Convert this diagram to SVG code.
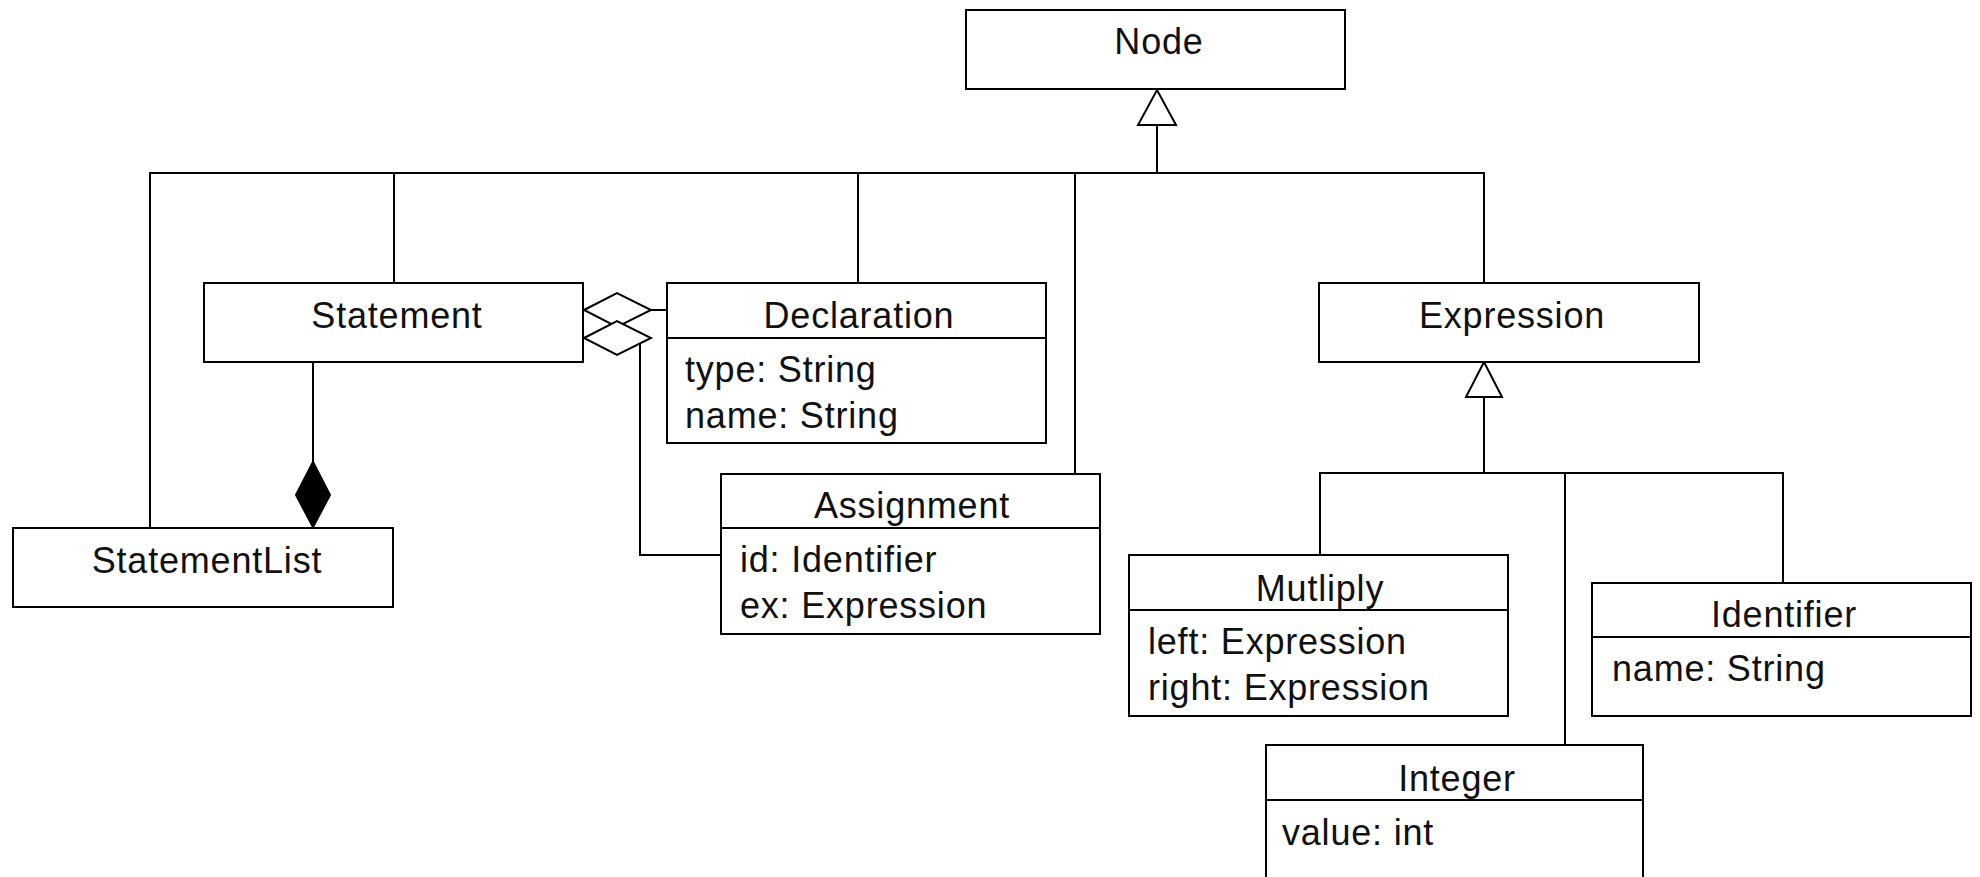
<svg xmlns="http://www.w3.org/2000/svg" width="1980" height="877" viewBox="0 0 1980 877">
  <style>
    .box { fill: #ffffff; stroke: #000000; stroke-width: 2; }
    .div { stroke: #000000; stroke-width: 2; }
    .wire { fill: none; stroke: #000000; stroke-width: 2; }
    .hollow { fill: #ffffff; stroke: #000000; stroke-width: 2; stroke-linejoin: miter; }
    .solid { fill: #000000; stroke: #000000; stroke-width: 2; }
    text { font-family: "Liberation Sans", Arial, sans-serif; font-size: 36px; letter-spacing: 0.8px; fill: #111111; }
    .title { text-anchor: middle; }
  </style>
  <rect x="0" y="0" width="1980" height="877" fill="#ffffff"/>

  <!-- connectors -->
  <g id="connectors">
    <!-- generalization bus under Node -->
    <polyline class="wire" points="150,528 150,173 1484,173 1484,283"/>
    <line class="wire" x1="1157" y1="125" x2="1157" y2="173"/>
    <line class="wire" x1="394" y1="173" x2="394" y2="283"/>
    <line class="wire" x1="858" y1="173" x2="858" y2="283"/>
    <line class="wire" x1="1075" y1="173" x2="1075" y2="474"/>
    <polygon class="hollow" points="1157,90 1176,125 1138,125"/>

    <!-- composition: StatementList owns Statement -->
    <line class="wire" x1="313" y1="362" x2="313" y2="462"/>
    <polygon class="solid" points="313,462 330,495 313,527 296,495"/>

    <!-- aggregations from Statement -->
    <line class="wire" x1="651" y1="310" x2="667" y2="310"/>
    <polyline class="wire" points="640,343 640,555 721,555"/>
    <polygon class="hollow" points="584,310 617,293 651,310 617,327"/>
    <polygon class="hollow" points="584,338 617,321 651,338 617,355"/>

    <!-- generalization bus under Expression -->
    <line class="wire" x1="1484" y1="397" x2="1484" y2="473"/>
    <polygon class="hollow" points="1484,362 1502,397 1466,397"/>
    <polyline class="wire" points="1320,555 1320,473 1783,473 1783,583"/>
    <line class="wire" x1="1565" y1="473" x2="1565" y2="745"/>
  </g>

  <g id="node-node">
    <rect class="box" x="966" y="10" width="379" height="79"/>
    <text class="title" x="1159" y="54">Node</text>
  </g>

  <g id="node-statement">
    <rect class="box" x="204" y="283" width="379" height="79"/>
    <text class="title" x="397" y="328">Statement</text>
  </g>

  <g id="node-statementlist">
    <rect class="box" x="13" y="528" width="380" height="79"/>
    <text class="title" x="207" y="573">StatementList</text>
  </g>

  <g id="node-declaration">
    <rect class="box" x="667" y="283" width="379" height="160"/>
    <line class="div" x1="667" y1="338" x2="1046" y2="338"/>
    <text class="title" x="859" y="328">Declaration</text>
    <text x="685" y="382">type: String</text>
    <text x="685" y="428">name: String</text>
  </g>

  <g id="node-assignment">
    <rect class="box" x="721" y="474" width="379" height="160"/>
    <line class="div" x1="721" y1="528" x2="1100" y2="528"/>
    <text class="title" x="912" y="518">Assignment</text>
    <text x="740" y="572">id: Identifier</text>
    <text x="740" y="618">ex: Expression</text>
  </g>

  <g id="node-expression">
    <rect class="box" x="1319" y="283" width="380" height="79"/>
    <text class="title" x="1512" y="328">Expression</text>
  </g>

  <g id="node-multiply">
    <rect class="box" x="1129" y="555" width="379" height="161"/>
    <line class="div" x1="1129" y1="610" x2="1508" y2="610"/>
    <text class="title" x="1320" y="601">Mutliply</text>
    <text x="1148" y="654">left: Expression</text>
    <text x="1148" y="700">right: Expression</text>
  </g>

  <g id="node-identifier">
    <rect class="box" x="1592" y="583" width="379" height="133"/>
    <line class="div" x1="1592" y1="637" x2="1971" y2="637"/>
    <text class="title" x="1784" y="627">Identifier</text>
    <text x="1612" y="681">name: String</text>
  </g>

  <g id="node-integer">
    <rect class="box" x="1266" y="745" width="377" height="160"/>
    <line class="div" x1="1266" y1="800" x2="1643" y2="800"/>
    <text class="title" x="1457" y="791">Integer</text>
    <text x="1282" y="845">value: int</text>
  </g>
</svg>
